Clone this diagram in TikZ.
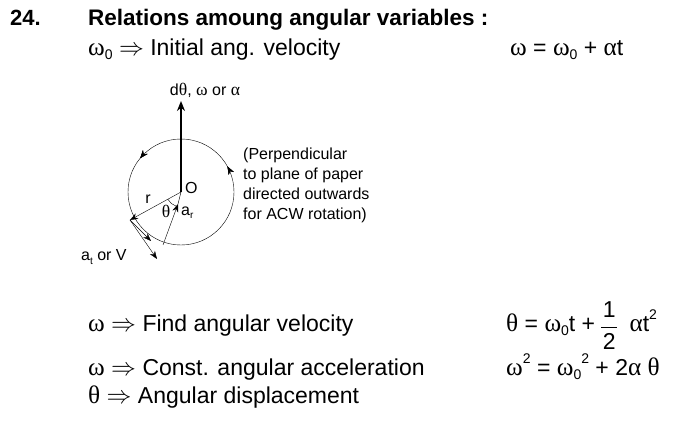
\documentclass[tikz,border=0pt]{standalone}
\usepackage{fontspec}
\setmainfont{Liberation Sans}
\newfontfamily\grk{Liberation Serif}[Scale=1.1]
\usetikzlibrary{arrows.meta,decorations.markings}
\newcommand{\w}{{\grk ω}}
\newcommand{\thet}{{\grk θ}}
\newcommand{\alp}{{\grk α}}
\newcommand{\imp}{$\Rightarrow$}
\newcommand{\sbz}{\raisebox{-0.3ex}{\fontsize{14}{14}\selectfont 0}}
\newcommand{\sqr}{\raisebox{1ex}{\fontsize{14}{14}\selectfont 2}}
\begin{document}
\begin{tikzpicture}[x=1pt,y=-1pt,
  big/.style={font=\fontsize{23}{26}\selectfont,anchor=base west,inner sep=0},
  small/.style={font=\fontsize{16}{19}\selectfont,inner sep=0},
  vec/.style={-{Stealth[length=8pt,width=6pt]}},
  mid/.style={postaction={decorate},decoration={markings,mark=at position #1 with {\arrow{Stealth[length=8pt,width=6pt]}}}}]
\useasboundingbox (0,0) rectangle (696,427);
\node[big,font=\fontsize{22}{26}\selectfont\bfseries] (n) at (10,26) {24.};
\node[big,font=\fontsize{22.5}{26}\selectfont\bfseries] (h) at (88,26) {Relations amoung angular variables :};
\node[big] (l1) at (88,56) {\w\sbz\ \imp\ Initial ang. velocity};
\node[big] (f1) at (510,56) {\w\ = \w\sbz\ + \alp t};
\node[big] (l2) at (88,332) {\w\ \imp\ Find angular velocity};
\node[big] (f2) at (506,332) {\thet\ = \w\sbz t +};
\path (f2.base east) ++(14,-14) node[big,anchor=base] (one) {1};
\path (f2.base east) ++(14,18) node[big,anchor=base] (two) {2};
\draw[line width=0.7pt] ([xshift=-8]f2.base east) ++(14,-5) -- ++(16,0);
\path (f2.base east) ++(34,0) node[big] (f2a) {\alp t\sqr};
\node[big] (l3) at (88,376) {\w\ \imp\ Const. angular acceleration};
\node[big] (f3) at (506,376) {\w\sqr\ = \w\sbz\sqr\ + 2\alp\ \thet};
\node[big] (l4) at (88,403) {\thet\ \imp\ Angular displacement};
% diagram
\coordinate (O) at (181,192);
\draw[thin,mid=0.08,mid=0.39] (O) ++(0:53) arc[start angle=0,end angle=-360,radius=53];
\coordinate (top) at (181,101);
\draw[line width=2.2pt,-{Stealth[length=10pt,width=8pt]}] (O) -- (top);
\node[small,anchor=south] (lab) at (205,98) {d\thet, \w\ or \alp};
\coordinate (P) at (130,220);
\coordinate (Q) at (163,245);
\draw[vec] (O) -- (P);
\draw[vec] (Q) -- (178,204);
\draw (178,204) -- (O);
\draw[vec] (P) -- (151,241);
\draw[vec] (P) -- (157,259);
\draw (O) ++(151:15) arc[start angle=151,end angle=109,radius=15];
\node[small] (r) at (148,199) {r};
\node[small] (th) at (166,211) {\thet};
\node[small,anchor=west] (ar) at (181,213) {a\raisebox{-0.4ex}{\fontsize{10}{10}\selectfont r}};
\node[small,anchor=west] (Ol) at (185,188) {O};
\node[small,anchor=west] (at) at (81,257) {a\raisebox{-0.4ex}{\fontsize{10}{10}\selectfont t} or V};
\node[small,anchor=north west,align=left,font=\fontsize{16}{20}\selectfont] (pp) at (243,148) {(Perpendicular\\to plane of paper\\directed outwards\\for ACW rotation)};
\end{tikzpicture}
\end{document}
